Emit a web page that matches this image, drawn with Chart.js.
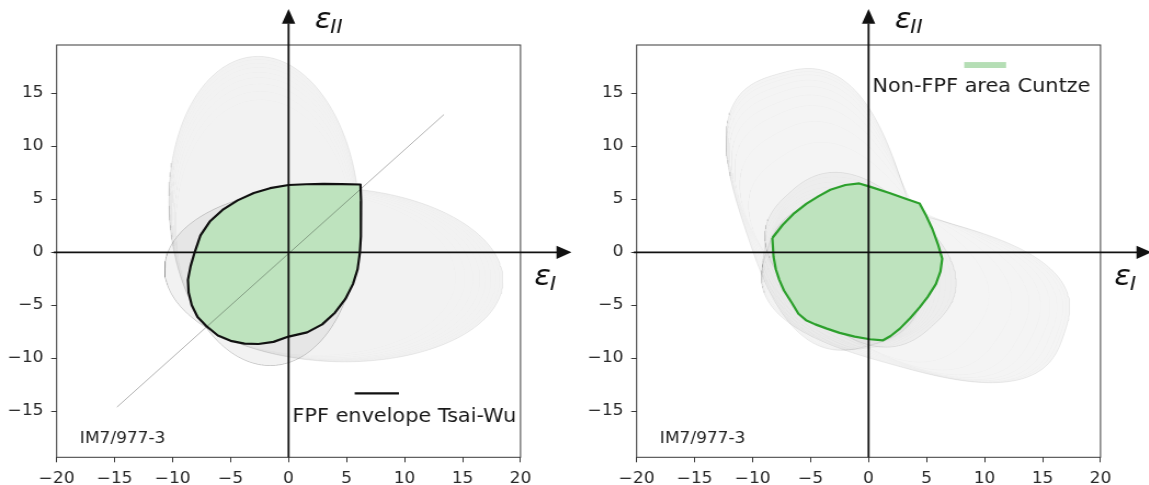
<!DOCTYPE html>
<html>
<head>
<meta charset="utf-8">
<script src="https://cdn.jsdelivr.net/npm/chart.js@4.4.1/dist/chart.umd.min.js"></script>
<style>
  html, body { margin: 0; padding: 0; background: #fff; width: 1149px; height: 485px; overflow: hidden; }
  .panel { position: absolute; top: 0; width: 524px; height: 485px; transform-origin: 0 0; transform: scaleX(1.096); }
  #p1 { left: 0; }
  #p2 { left: 579.5px; }
  canvas { display: block; }
</style>
</head>
<body>
<div class="panel" id="p1"><canvas id="c1" width="524" height="485"></canvas></div>
<div class="panel" id="p2"><canvas id="c2" width="524" height="485"></canvas></div>
<script>
// ---- axes ----
const xTicks = [-20, -15, -10, -5, 0, 5, 10, 15, 20];
const yTicks = [-15, -10, -5, 0, 5, 10, 15];
const xRange = [-20, 20];
const yRange = [-19.34, 19.56];

// ---- Tsai-Wu first-ply-failure envelope (strain space) ----
const tsaiWuX = [-8.1, -7.6, -6.8, -5.7, -4.4, -3.0, -1.6, 0, 1.5, 3.0, 4.6, 6.2, 6.25, 6.25, 6.22, 6.15, 5.95, 5.55, 4.9, 4.0, 2.9, 1.6, 0, -1.3, -2.6, -3.8, -5.0, -6.1, -7.1, -7.85, -8.35, -8.62, -8.68, -8.45, -8.1];
const tsaiWuY = [0, 1.6, 2.9, 4.0, 4.9, 5.6, 6.05, 6.35, 6.42, 6.45, 6.44, 6.4, 4.8, 3.2, 1.5, 0, -1.6, -3.0, -4.4, -5.7, -6.8, -7.55, -7.95, -8.45, -8.65, -8.62, -8.35, -7.85, -6.95, -6.1, -5.0, -3.8, -2.6, -1.3, 0];

// ---- Cuntze non-FPF area ----
const cuntzeX = [-8.3, -7.4, -6.4, -5.35, -4.3, -3.3, -2.0, -0.8, 0.1, 1.8, 3.2, 4.4, 4.9, 5.5, 6.0, 6.35, 6.2, 5.8, 5.1, 4.4, 3.6, 2.7, 1.9, 1.25, 0.1, -1.2, -2.5, -3.6, -4.6, -5.4, -6.05, -6.6, -7.3, -7.7, -8.0, -8.2, -8.3];
const cuntzeY = [1.35, 2.6, 3.7, 4.6, 5.3, 5.9, 6.35, 6.5, 6.2, 5.6, 5.05, 4.6, 3.6, 2.2, 0.7, -0.6, -1.8, -3.0, -4.2, -5.2, -6.2, -7.2, -7.9, -8.3, -8.2, -7.95, -7.6, -7.2, -6.8, -6.4, -5.8, -4.8, -3.6, -2.6, -1.6, -0.4, 1.35];

// ---- equal-strain diagonal (left panel) ----
const diagX = [-14.8, 13.4];
const diagY = [-14.6, 13.0];

// ---- ply failure ellipses, left panel (centre, semi-axes, tilt in degrees) ----
const twVertCx = [-2.11, -2.10, -2.09, -2.08, -2.07, -2.06, -2.04, -2.02, -2.00];
const twVertCy = [3.90, 3.75, 3.58, 3.38, 3.15, 2.90, 2.60, 2.25, 1.85];
const twVertA  = [14.6, 14.45, 14.28, 14.08, 13.85, 13.6, 13.3, 12.95, 12.55];
const twVertB  = [8.2, 8.17, 8.13, 8.09, 8.04, 7.98, 7.9, 7.8, 7.7];
const twVertTilt = [93, 93, 93, 93, 93, 93, 93, 93, 93];

const twHorCx = [3.90, 3.75, 3.58, 3.38, 3.15, 2.90, 2.60, 2.25, 1.85];
const twHorCy = [-2.11, -2.10, -2.09, -2.08, -2.07, -2.06, -2.04, -2.02, -2.00];
const twHorA  = [14.6, 14.45, 14.28, 14.08, 13.85, 13.6, 13.3, 12.95, 12.55];
const twHorB  = [8.2, 8.17, 8.13, 8.09, 8.04, 7.98, 7.9, 7.8, 7.7];
const twHorTilt = [-3, -3, -3, -3, -3, -3, -3, -3, -3];

// ---- ply failure bodies, right panel (centre, semi-axes, tilt, squareness) ----
const cuVertCx = [-0.7, -1.62, -2.24, -2.7, -3.01, -3.26, -3.44, -3.6, -3.69, -3.78];
const cuVertCy = [-0.7, 0.73, 1.68, 2.39, 2.86, 3.24, 3.53, 3.77, 3.91, 4.05];
const cuVertA  = [8.8, 10.18, 11.1, 11.79, 12.25, 12.62, 12.89, 13.12, 13.26, 13.4];
const cuVertB  = [6.3, 6.54, 6.7, 6.82, 6.9, 6.96, 7.01, 7.05, 7.08, 7.1];
const cuVertTilt = [135, 126.6, 121, 116.8, 114, 111.8, 110.1, 108.7, 107.8, 107];
const cuVertPow  = [2.6, 2.66, 2.7, 2.73, 2.75, 2.77, 2.78, 2.79, 2.79, 2.8];

const cuHorCx = [-0.7, 0.73, 1.68, 2.39, 2.86, 3.24, 3.53, 3.77, 3.91, 4.05];
const cuHorCy = [-0.7, -1.62, -2.24, -2.7, -3.01, -3.26, -3.44, -3.6, -3.69, -3.78];
const cuHorA  = [8.8, 10.18, 11.1, 11.79, 12.25, 12.62, 12.89, 13.12, 13.26, 13.4];
const cuHorB  = [6.3, 6.54, 6.7, 6.82, 6.9, 6.96, 7.01, 7.05, 7.08, 7.1];
const cuHorTilt = [-45, -36.6, -31, -26.8, -24, -21.8, -20.1, -18.7, -17.8, -17];
const cuHorPow  = [2.6, 2.66, 2.7, 2.73, 2.75, 2.77, 2.78, 2.79, 2.79, 2.8];

// ---- text ----
const materialName = 'IM7/977-3';
const legendTsaiWu = 'FPF envelope Tsai-Wu';
const legendCuntze = 'Non-FPF area Cuntze';

const GREEN = '#2ca02c';
const GREEN_FILL = 'rgb(190,227,190)';

function pts(xs, ys) { return xs.map((x, i) => ({ x, y: ys[i] })); }

// closed (super)ellipse outline from centre, semi-axes, tilt and exponent
function outline(cx, cy, a, b, tilt, n) {
  const r = tilt * Math.PI / 180, cr = Math.cos(r), sr = Math.sin(r);
  const out = [];
  for (let i = 0; i <= 200; i++) {
    const t = i / 200 * 2 * Math.PI;
    const c = Math.cos(t), s = Math.sin(t);
    const u = a * Math.sign(c) * Math.pow(Math.abs(c), 2 / n);
    const v = b * Math.sign(s) * Math.pow(Math.abs(s), 2 / n);
    out.push({ x: cx + u * cr - v * sr, y: cy + u * sr + v * cr });
  }
  return out;
}

function lineDs(data, opts) {
  return Object.assign({
    type: 'scatter', data, showLine: true, pointRadius: 0, pointHoverRadius: 0,
    tension: 0, fill: false, clip: false, borderJoinStyle: 'round', borderCapStyle: 'butt'
  }, opts);
}

// one family of failure bodies; selected members carry a light grey fill
function family(cx, cy, a, b, tilt, pow, fills, baseOrder) {
  return cx.map((_, i) => {
    const fillAlpha = fills[i];
    const edge = fillAlpha !== undefined;
    return lineDs(outline(cx[i], cy[i], a[i], b[i], tilt[i], pow ? pow[i] : 2), {
      borderColor: edge ? 'rgba(0,0,0,0.085)' : 'rgba(0,0,0,0.04)',
      borderWidth: edge ? 0.9 : 0.6,
      backgroundColor: 'rgba(0,0,0,' + (fillAlpha || 0) + ')',
      fill: edge ? 'shape' : false,
      order: baseOrder + i
    });
  });
}

function axisLines() {
  return [
    lineDs(pts([-20.25, 23.2], [0, 0]), { borderColor: '#111', borderWidth: 1.8, order: 0 }),
    lineDs(pts([0, 0], [yRange[0], 21.6]), { borderColor: '#111', borderWidth: 1.8, order: 0 })
  ];
}

function fmt(v) { return v < 0 ? '\u2212' + Math.abs(v) : String(v); }

function scaleCfg(pos, range, values) {
  const horiz = pos === 'bottom';
  return {
    type: 'linear', position: pos, min: range[0], max: range[1],
    afterBuildTicks: s => { s.ticks = values.map(v => ({ value: v })); },
    afterFit: s => { if (horiz) s.height = 27.7; else s.width = 51.7; },
    grid: { drawOnChartArea: false, drawTicks: true, tickLength: 5, color: '#3a3a3a', lineWidth: 1 },
    border: { display: false },
    ticks: {
      color: '#262626', padding: 7, autoSkip: false, maxRotation: 0,
      font: { family: 'DejaVu Sans', size: 15.5 },
      callback: v => fmt(v)
    }
  };
}

function drawSymbol(ctx, px, py, base, sub) {
  ctx.fillStyle = '#111';
  ctx.textAlign = 'left';
  ctx.textBaseline = 'alphabetic';
  ctx.font = 'italic 28px "DejaVu Sans"';
  ctx.fillText(base, px, py);
  const w = ctx.measureText(base).width;
  ctx.font = 'italic 19px "DejaVu Sans"';
  ctx.fillText(sub, px + w - 1, py + 5);
}

function decorations(drawLegend) {
  return {
    id: 'decorations',
    beforeDatasetsDraw(chart) {
      const { ctx, chartArea: a } = chart;
      ctx.save();
      ctx.strokeStyle = '#3a3a3a';
      ctx.lineWidth = 1;
      ctx.strokeRect(a.left, a.top, a.right - a.left, a.bottom - a.top);
      ctx.restore();
    },
    afterDatasetsDraw(chart) {
      const { ctx, scales: { x, y } } = chart;
      const X = v => x.getPixelForValue(v), Y = v => y.getPixelForValue(v);
      ctx.save();
      // arrow heads
      ctx.fillStyle = '#111';
      let tx = X(24.4), ty = Y(0);
      ctx.beginPath();
      ctx.moveTo(tx, ty); ctx.lineTo(tx - 13.7, ty - 6.6); ctx.lineTo(tx - 13.7, ty + 6.6); ctx.closePath(); ctx.fill();
      tx = X(0); ty = Y(22.95);
      ctx.beginPath();
      ctx.moveTo(tx, ty); ctx.lineTo(tx - 6.1, ty + 14.7); ctx.lineTo(tx + 6.1, ty + 14.7); ctx.closePath(); ctx.fill();
      // axis symbols
      drawSymbol(ctx, X(2.26), Y(21.16), '\u03B5', 'II');
      drawSymbol(ctx, X(21.2), Y(-3.08), '\u03B5', 'I');
      // material note
      ctx.fillStyle = '#222';
      ctx.font = '15.5px "DejaVu Sans"';
      ctx.textAlign = 'left';
      ctx.textBaseline = 'alphabetic';
      ctx.fillText(materialName, X(-18), Y(-18));
      drawLegend(ctx, X, Y);
      ctx.restore();
    }
  };
}

function makeChart(id, datasets, drawLegend) {
  return new Chart(document.getElementById(id), {
    type: 'scatter',
    data: { datasets },
    options: {
      responsive: false, animation: false, events: [],
      layout: { padding: { left: 0, right: 49.1, top: 45, bottom: 0 } },
      plugins: { legend: { display: false }, tooltip: { enabled: false } },
      scales: { x: scaleCfg('bottom', xRange, xTicks), y: scaleCfg('left', yRange, yTicks) }
    },
    plugins: [decorations(drawLegend)]
  });
}

// ---- left panel: Tsai-Wu ----
makeChart('c1', [
  ...axisLines(),
  lineDs(pts(diagX, diagY), { borderColor: 'rgba(0,0,0,0.35)', borderWidth: 0.9, order: 1 }),
  lineDs(pts(tsaiWuX, tsaiWuY), { borderColor: '#111', borderWidth: 2.2, backgroundColor: GREEN_FILL, fill: 'shape', order: 2 }),
  ...family(twVertCx, twVertCy, twVertA, twVertB, twVertTilt, null, { 0: 0.05 }, 10),
  ...family(twHorCx, twHorCy, twHorA, twHorB, twHorTilt, null, { 0: 0.05 }, 30)
], (ctx, X, Y) => {
  ctx.strokeStyle = '#111';
  ctx.lineWidth = 2.2;
  ctx.beginPath(); ctx.moveTo(X(5.7), Y(-13.3)); ctx.lineTo(X(9.52), Y(-13.3)); ctx.stroke();
  ctx.fillStyle = '#1a1a1a';
  ctx.font = '19px "DejaVu Sans"';
  ctx.fillText(legendTsaiWu, X(0.33), Y(-15.98));
});

// ---- right panel: Cuntze ----
makeChart('c2', [
  ...axisLines(),
  lineDs(pts(cuntzeX, cuntzeY), { borderColor: GREEN, borderWidth: 2.2, backgroundColor: GREEN_FILL, fill: 'shape', order: 2 }),
  ...family(cuVertCx, cuVertCy, cuVertA, cuVertB, cuVertTilt, cuVertPow, { 0: 0.03, 9: 0.045 }, 10),
  ...family(cuHorCx, cuHorCy, cuHorA, cuHorB, cuHorTilt, cuHorPow, { 9: 0.045 }, 30)
], (ctx, X, Y) => {
  ctx.fillStyle = 'rgba(44,160,44,0.35)';
  ctx.fillRect(X(8.25), Y(17.95), X(11.86) - X(8.25), Y(17.39) - Y(17.95));
  ctx.fillStyle = '#1a1a1a';
  ctx.font = '19px "DejaVu Sans"';
  ctx.fillText(legendCuntze, X(0.33), Y(15.12));
});
</script>
</body>
</html>
